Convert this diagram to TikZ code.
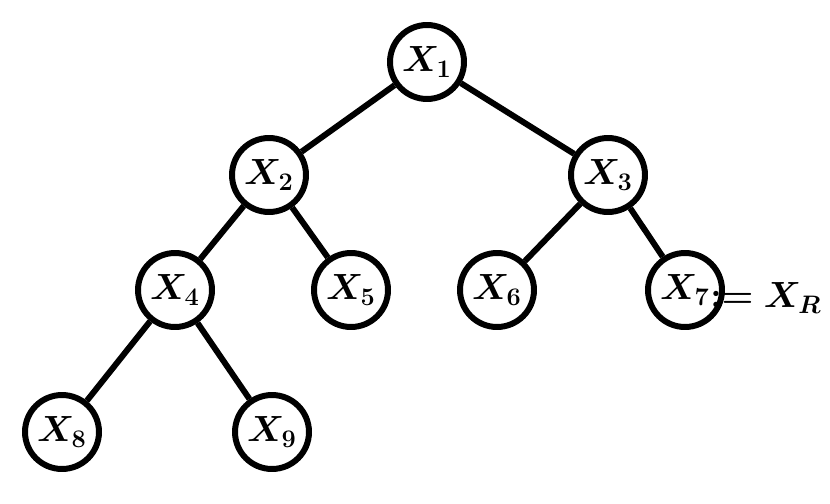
\documentclass[tikz,border=0pt]{standalone}
\usepackage{amsmath}
\usepackage{bm}
\usetikzlibrary{calc}
\tikzstyle{var} = [draw, circle, fill=white, line width=3.4pt, minimum size=1.48cm, inner sep=0pt, font=\fontsize{22}{26}\selectfont]
\tikzstyle{edge} = [draw, line width=3.4pt]
\tikzstyle{terminal} = [draw=none, inner sep=0pt, font=\fontsize{22}{26}\selectfont]

\begin{document}
\begin{tikzpicture}[x=0.02cm, y=-0.02cm]
\useasboundingbox (0,0) rectangle (830,503);

% variables
\node (x1) [var] at (427,62)  {$\bm{X_1}$};
\node (x2) [var] at (269,175) {$\bm{X_2}$};
\node (x3) [var] at (608,175) {$\bm{X_3}$};
\node (x4) [var] at (175,290) {$\bm{X_4}$};
\node (x5) [var] at (351,290) {$\bm{X_5}$};
\node (x6) [var] at (497,290) {$\bm{X_6}$};
\node (x7) [var] at (685,290) {$\bm{X_7}$};
\node (x8) [var] at (62,432)  {$\bm{X_8}$};
\node (x9) [var] at (272,432) {$\bm{X_9}$};

% edges
\path[edge] (x1) -- (x2);
\path[edge] (x1) -- (x3);
\path[edge] (x2) -- (x4);
\path[edge] (x2) -- (x5);
\path[edge] (x3) -- (x6);
\path[edge] (x3) -- (x7);
\path[edge] (x4) -- (x8);
\path[edge] (x4) -- (x9);

% root label
\node (xr) [terminal, anchor=west] at (710,298) {$\bm{:=X_R}$};

\end{tikzpicture}
\end{document}
